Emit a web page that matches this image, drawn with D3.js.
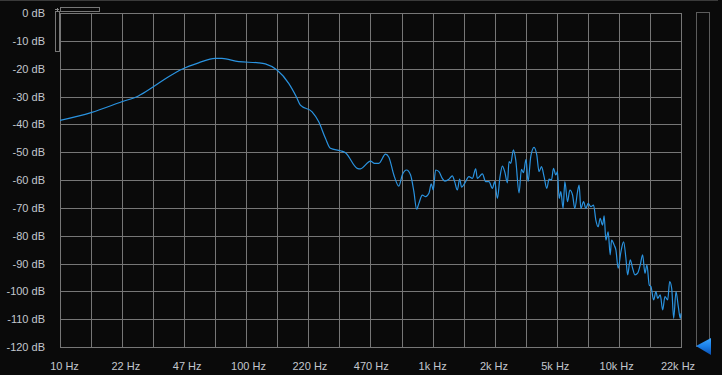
<!DOCTYPE html>
<html>
<head>
  <meta charset="utf-8">
  <script src="https://cdn.jsdelivr.net/npm/d3@7"></script>
  <style>
    body { margin: 0; background: #0a0a0a; }
    svg { display: block; }
    .lbl { font-family: "Liberation Sans", Arial, sans-serif; font-size: 11px; fill: #c3c7ce; }
  </style>
</head>
<body>
<script>
  "use strict";

  // x tick labels (log axis 10 Hz .. 22 kHz, ten equal steps)
  var freqLabels = ["10 Hz", "22 Hz", "47 Hz", "100 Hz", "220 Hz", "470 Hz",
                    "1k Hz", "2k Hz", "5k Hz", "10k Hz", "22k Hz"];
  var dbTicks = [0, -10, -20, -30, -40, -50, -60, -70, -80, -90, -100, -110, -120];

  // spectrum
  var freqs = [
    10, 14.69, 21.5, 26.4, 31.8, 38.4, 45.3, 55.7, 68.5, 74.4,
    91.5, 117.3, 127.4, 147.3, 170.2, 187.3, 196.7, 227.5, 247, 268.3,
    285.5, 323.2, 343.9, 397.7, 414.3, 469.1, 492.9, 520, 565.1, 588.8,
    626.5, 666.6, 695.3, 733.4, 770.8, 803, 830.4, 854.4, 891.3, 928.6,
    967.2, 996.4, 1021, 1051, 1095, 1142, 1180, 1240, 1293, 1331,
    1376, 1416, 1451, 1507, 1589, 1658, 1727, 1764, 1877, 1955,
    2037, 2125, 2186, 2261, 2335, 2405, 2475, 2559, 2611, 2667,
    2757, 2837, 2956, 3045, 3122, 3224, 3305, 3418, 3561, 3682,
    3789, 3904, 4032, 4169, 4290, 4420, 4531, 4662, 4761, 4857,
    4961, 5105, 5214, 5391, 5546, 5736, 5902, 6103, 6226, 6358,
    6575, 6766, 6961, 7198, 7443, 7658, 7880, 8078, 8322, 8489,
    8671, 8922, 9147, 9306, 9612, 9817, 10101, 10447, 10803, 11115,
    11353, 11725, 12079, 12430, 12853, 13274, 13675, 14070, 14425, 14842,
    15159, 15674, 16128, 16473, 17013, 17530, 18037, 18650, 19119, 19600,
    20094, 20676, 21277, 21812, 22000
  ];
  var levels = [
    -38.6, -35.8, -31.9, -29.8, -26.5, -22.9, -20.2, -17.9, -16.3, -16.3,
    -17.5, -17.9, -18.3, -20.5, -25.3, -30.2, -33.1, -35.5, -39.1, -45.0,
    -48.6, -49.5, -50.2, -55.8, -56.0, -53.2, -54.0, -54.0, -50.7, -51.8,
    -58.2, -62.2, -58.2, -56.4, -58.2, -64.2, -70.5, -68.4, -65.4, -66.0,
    -64.8, -61.4, -63.6, -56.4, -57.0, -59.4, -60.4, -59.7, -58.5, -60.6,
    -63.6, -59.7, -62.6, -61.2, -58.8, -59.4, -56.0, -59.4, -57.8, -60.6,
    -60.6, -63.0, -60.6, -66.6, -58.8, -55.0, -57.0, -61.0, -53.4, -54.0,
    -49.2, -52.8, -64.6, -56.2, -57.4, -52.6, -60.6, -51.6, -48.3, -51.0,
    -57.0, -55.2, -58.8, -63.0, -59.7, -60.0, -55.8, -58.2, -57.0, -66.6,
    -64.2, -70.2, -60.6, -67.8, -63.6, -65.4, -70.2, -64.2, -61.8, -70.2,
    -67.8, -70.2, -68.4, -69.6, -69.0, -74.4, -76.8, -73.8, -76.2, -72.9,
    -81.6, -78.6, -86.9, -81.6, -83.4, -85.1, -91.7, -85.8, -82.2, -88.1,
    -94.1, -88.7, -91.7, -94.1, -93.5, -90.5, -86.9, -93.5, -90.5, -97.7,
    -98.3, -103.1, -100.1, -102.5, -101.3, -106.7, -101.9, -103.1, -96.5, -98.9,
    -109.7, -100.1, -105.5, -109.7, -107.9
  ];

  var W = 722, H = 375,
      pL = 60, pR = 681, pT = 13, pB = 347;

  var x = d3.scaleLog().domain([10, 22000]).range([pL, pR]);
  var y = d3.scaleLinear().domain([-120, 0]).range([pB, pT]);

  var svg = d3.select("body").append("svg")
      .attr("width", W).attr("height", H);
  var defs = svg.append("defs");

  svg.append("rect").attr("width", W).attr("height", H).attr("fill", "#0a0a0a");
  // thin frame line along the top edge
  svg.append("line").attr("x1", 0).attr("x2", W - 4).attr("y1", 0.5).attr("y2", 0.5)
      .attr("stroke", "#3a3a3a");

  // grid: 20 columns on log axis, 12 rows of 10 dB
  var gridF = d3.range(21).map(function(i) { return 10 * Math.pow(2200, i / 20); });
  var grid = svg.append("g").attr("stroke", "#767676").attr("stroke-width", 1);
  grid.selectAll("line.v").data(gridF).enter().append("line")
      .attr("x1", function(d) { return Math.round(x(d)) + 0.5; })
      .attr("x2", function(d) { return Math.round(x(d)) + 0.5; })
      .attr("y1", pT).attr("y2", pB);
  grid.selectAll("line.h").data(dbTicks).enter().append("line")
      .attr("x1", pL).attr("x2", pR + 1)
      .attr("y1", function(d) { return Math.round(y(d)) + 0.5; })
      .attr("y2", function(d) { return Math.round(y(d)) + 0.5; });

  // y labels
  svg.append("g").selectAll("text").data(dbTicks).enter().append("text")
      .attr("class", "lbl")
      .attr("x", 45).attr("y", function(d) { return y(d) + 4; })
      .attr("text-anchor", "end")
      .text(function(d) { return d + " dB"; });

  // x labels
  var tickF = d3.range(11).map(function(i) { return 10 * Math.pow(2200, i / 10); });
  svg.append("g").selectAll("text").data(tickF).enter().append("text")
      .attr("class", "lbl")
      .attr("x", function(d, i) { return x(d) + 4.5 - 0.75 * i; })
      .attr("y", 370)
      .attr("text-anchor", "middle")
      .text(function(d, i) { return freqLabels[i]; });

  // scroll thumbs at top-left
  svg.append("rect").attr("x", 60.5).attr("y", 7.5).attr("width", 39).attr("height", 4)
      .attr("fill", "none").attr("stroke", "#777");
  svg.append("rect").attr("x", 55.5).attr("y", 11.5).attr("width", 4).attr("height", 40)
      .attr("fill", "none").attr("stroke", "#777");
  svg.append("path").attr("d", "M55,9.5H59M57.5,8V12").attr("stroke", "#888");

  // spectrum line
  var pts = freqs.map(function(f, i) { return [f, levels[i]]; });
  defs.append("clipPath").attr("id", "clip")
    .append("rect").attr("x", pL).attr("y", pT).attr("width", pR - pL + 1).attr("height", pB - pT);
  svg.append("path")
      .datum(pts)
      .attr("clip-path", "url(#clip)")
      .attr("fill", "none")
      .attr("stroke", "#2a93e0")
      .attr("stroke-width", 1.2)
      .attr("d", d3.line()
        .x(function(d) { return x(d[0]); })
        .y(function(d) { return y(d[1]); })
        .curve(d3.curveMonotoneX));

  // level meter on the right
  svg.append("rect").attr("x", 696.5).attr("y", 12.5).attr("width", 13).attr("height", 334)
      .attr("fill", "none").attr("stroke", "#5c5c5c");
  var grad = defs.append("linearGradient").attr("id", "tri")
      .attr("x1", 0).attr("x2", 0).attr("y1", 0).attr("y2", 1);
  grad.append("stop").attr("offset", 0).attr("stop-color", "#3aa6ff");
  grad.append("stop").attr("offset", 0.5).attr("stop-color", "#1a7fe8");
  grad.append("stop").attr("offset", 1).attr("stop-color", "#0a4fb0");
  svg.append("path").attr("d", "M696,346L711,338L711,355Z").attr("fill", "url(#tri)");
</script>
</body>
</html>
